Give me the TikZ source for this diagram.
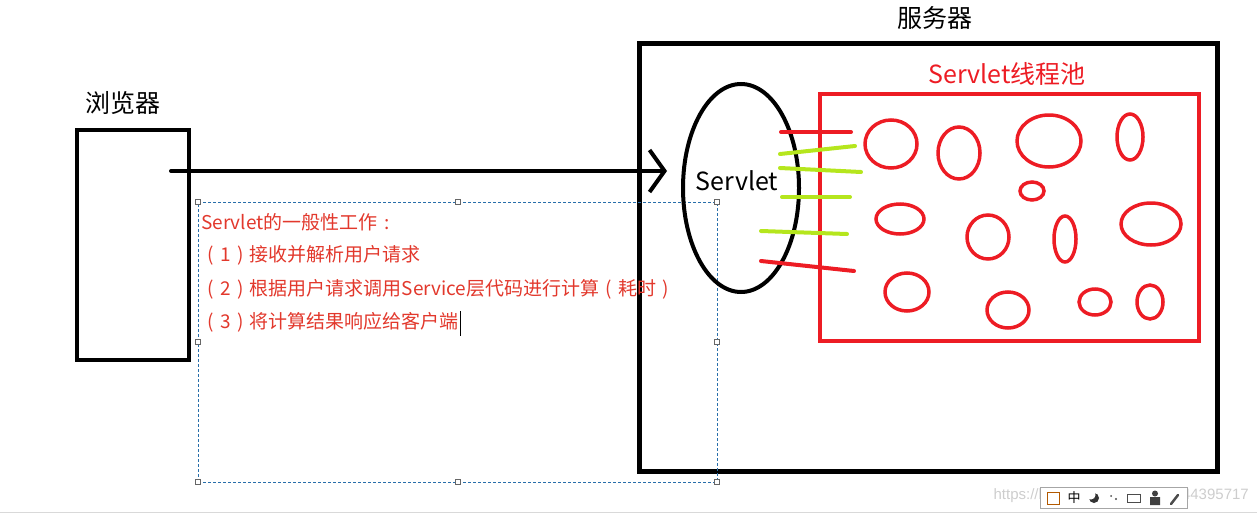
\documentclass[tikz,border=0pt]{standalone}
\usepackage{fontspec}
\newfontfamily\cjk{Noto Sans CJK SC}
\newfontfamily\wmfont{Liberation Sans}
\usetikzlibrary{arrows.meta,shapes.geometric}
\definecolor{pred}{RGB}{237,28,36}
\definecolor{tred}{RGB}{226,56,44}
\definecolor{lime}{RGB}{181,230,29}
\definecolor{dashblue}{RGB}{40,110,170}
\definecolor{wmgrey}{RGB}{205,205,205}
\newcommand{\lpar}{\makebox[1em][c]{(}}
\newcommand{\rpar}{\makebox[1em][c]{)}}
\newcommand{\fwcolon}{\makebox[1em][c]{:}}
\begin{document}
\begin{tikzpicture}[x=1pt,y=-1pt,
  blackbox/.style={draw=black, line width=4pt, inner sep=0pt},
  redbox/.style={draw=pred, line width=4pt, inner sep=0pt},
  bigtitle/.style={font=\cjk\fontsize{25}{25}\selectfont, inner sep=0pt},
  redtitle/.style={font=\cjk\fontsize{25}{25}\selectfont, text=pred, inner sep=0pt},
  listtext/.style={font=\cjk\fontsize{19}{19}\selectfont, text=tred, anchor=west, inner sep=0pt},
  stroke/.style={line width=4pt, line cap=round},
  blob/.style={draw=pred, line width=3.5pt},
  handle/.style={draw=black!60, fill=white, line width=0.6pt, minimum size=4.5pt, inner sep=0pt}
]
\useasboundingbox (0,0) rectangle (1257,514);

% browser
\node[bigtitle] (browserlabel) at (123,103) {浏览器};
\node[blackbox, minimum width=112pt, minimum height=230pt] (browser) at (133,245) {};

% server
\node[bigtitle] (serverlabel) at (935,18) {服务器};
\node[draw=black, line width=5pt, inner sep=0pt, minimum width=578pt, minimum height=428pt] (server) at (928,257) {};

% thread pool
\node[redtitle] (poollabel) at (1007,74) {Servlet线程池};
\node[redbox, minimum width=379pt, minimum height=247pt] (pool) at (1009.5,217.5) {};

% text box
\node[draw=dashblue, dash pattern=on 3pt off 2pt, line width=0.8pt, inner sep=0pt,
      minimum width=519pt, minimum height=280pt] (textbox) at (457.5,342) {};
\foreach \hx/\hy [count=\i] in {198/202,458/202,717/202,198/342,717/342,198/482,458/482,717/482}
  \node[handle] (h\i) at (\hx,\hy) {};
\node[listtext] (t0) at (201,222) {Servlet的一般性工作\fwcolon};
\node[listtext] (t1) at (201,255) {\lpar 1\rpar 接收并解析用户请求};
\node[listtext] (t2) at (201,289) {\lpar 2\rpar 根据用户请求调用Service层代码进行计算\lpar 耗时\rpar};
\node[listtext] (t3) at (201,322) {\lpar 3\rpar 将计算结果响应给客户端};
\coordinate (cursortop) at (460,311);
\coordinate (cursorbot) at (460,336);
\draw[line width=1pt] (cursortop) -- (cursorbot);

% arrow
\coordinate (astart) at (171,171);
\coordinate (aend) at (667,171);
\draw[line width=4pt, line cap=round,
  -{Straight Barb[length=15pt,width=42pt,line width=4pt]}] (astart) -- (aend);

% servlet ellipse
\node[ellipse, draw=black, line width=4pt, minimum width=116pt, minimum height=208pt, inner sep=0pt] (servlet) at (741,188) {};
\node[font=\cjk\fontsize{25}{25}\selectfont, inner sep=0pt] (servletlabel) at (737,181) {Servlet};

% connection strokes
\draw[stroke, pred] (781,132) -- (851,132);
\draw[stroke, lime] (780,154) -- (855,146);
\draw[stroke, lime] (780,168) -- (861,172);
\draw[stroke, lime] (782,197) -- (850,197);
\draw[stroke, lime] (761,231) -- (847,234);
\draw[stroke, pred] (761,261) -- (854,271);

% threads
\foreach \cx/\cy/\rx/\ry in {
  891/144/26/24, 959/153/21/26, 1049/141/32/26, 1130/137/13/23,
  1032/191/12/9, 900/219/24/15, 988/237/21/22, 1065/239/11/23,
  1151/224/30/21, 907/292/22/19, 1008/310/21/18, 1095/302/16/13,
  1150/302/13/17}
  \draw[blob] (\cx,\cy) ellipse [x radius=\rx pt, y radius=\ry pt];

% watermark and toolbar
\node[font=\wmfont\fontsize{15}{15}\selectfont, text=wmgrey, anchor=east, inner sep=0pt] (wm) at (1249,496) {https://blog.csdn.net/weixin\_44395717};
\node[draw=black!35, fill=white, line width=0.8pt, inner sep=0pt, minimum width=147pt, minimum height=21pt] (toolbar) at (1113.5,498) {};
\node[draw=orange!70!black, line width=0.8pt, minimum size=12pt, inner sep=0pt] (ime1) at (1053,498) {};
\node[font=\cjk\fontsize{13}{13}\selectfont, inner sep=0pt] (ime2) at (1074,498) {中};
\fill[black!80] (1094,498) circle [radius=5pt];
\fill[white] (1091,495) circle [radius=4.5pt];
\fill[black!70] (1111,496) circle [radius=1pt] (1116,499) circle [radius=1.2pt];
\node[draw=black!70, line width=1pt, minimum width=13pt, minimum height=8pt, inner sep=0pt] (ime4) at (1134,498) {};
\fill[black!75] (1155,493.5) circle [radius=3pt] (1150,505) rectangle (1160,497);
\draw[black!70, line width=2.5pt, line cap=round] (1171,504) -- (1178,495);
\coordinate (bl) at (0,512.5);
\coordinate (br) at (1257,512.5);
\draw[black!15, line width=1pt] (bl) -- (br);
\end{tikzpicture}
\end{document}
